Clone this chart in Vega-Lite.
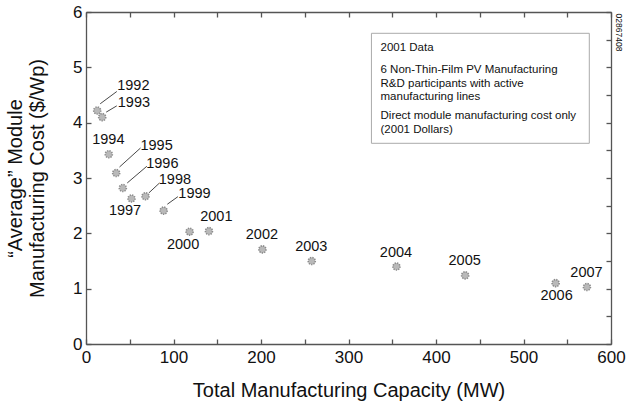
{
  "$schema": "https://vega.github.io/schema/vega-lite/v6.json",
  "autosize": "none",
  "width": 525,
  "height": 332,
  "padding": {"left": 86, "top": 12, "right": 15, "bottom": 58},
  "background": "white",
  "config": {
    "font": "Liberation Sans",
    "view": {"stroke": null},
    "axis": {
      "grid": false,
      "domainColor": "#555",
      "domainWidth": 1.3,
      "tickColor": "#555",
      "tickWidth": 1.3,
      "tickSize": -5,
      "labelFontSize": 17,
      "labelColor": "#111",
      "labelFlush": false,
      "labelOverlap": false,
      "titleFontSize": 20,
      "titleFontWeight": "normal",
      "titleColor": "#111"
    },
    "text": {"font": "Liberation Sans", "color": "#111"}
  },
  "data": {
    "values": [
      {"year": "1992", "capacity": 12.8, "cost": 4.22},
      {"year": "1993", "capacity": 18.5, "cost": 4.10},
      {"year": "1994", "capacity": 26.1, "cost": 3.43},
      {"year": "1995", "capacity": 34.5, "cost": 3.09},
      {"year": "1996", "capacity": 42.1, "cost": 2.82},
      {"year": "1997", "capacity": 52.0, "cost": 2.63},
      {"year": "1998", "capacity": 68.0, "cost": 2.67},
      {"year": "1999", "capacity": 88.7, "cost": 2.41},
      {"year": "2000", "capacity": 118.4, "cost": 2.03},
      {"year": "2001", "capacity": 140.5, "cost": 2.04},
      {"year": "2002", "capacity": 201.6, "cost": 1.71},
      {"year": "2003", "capacity": 258.0, "cost": 1.50},
      {"year": "2004", "capacity": 354.8, "cost": 1.40},
      {"year": "2005", "capacity": 433.3, "cost": 1.24},
      {"year": "2006", "capacity": 536.7, "cost": 1.10},
      {"year": "2007", "capacity": 572.5, "cost": 1.03}
    ]
  },
  "encoding": {
    "x": {"field": "capacity", "type": "quantitative", "scale": {"domain": [0, 600], "nice": false}},
    "y": {"field": "cost", "type": "quantitative", "scale": {"domain": [0, 6], "nice": false}}
  },
  "resolve": {"axis": {"x": "independent", "y": "independent"}},
  "layer": [
    {
      "mark": {"type": "point", "opacity": 0},
      "encoding": {
        "x": {"field": "capacity", "type": "quantitative", "axis": {"orient": "top", "values": [0,50,100,150,200,250,300,350,400,450,500,550,600], "labels": false, "title": null}},
        "y": {"field": "cost", "type": "quantitative", "axis": {"orient": "right", "values": [0,0.5,1,1.5,2,2.5,3,3.5,4,4.5,5,5.5,6], "labels": false, "title": null}}
      }
    },
    {
      "transform": [{"filter": {"field": "year", "equal": "1992"}}],
      "mark": {"type": "rect", "fill": null, "stroke": "#aaaaaa", "strokeWidth": 1},
      "encoding": {
        "x": {"datum": 326.2, "type": "quantitative", "axis": null},
        "x2": {"datum": 575.2},
        "y": {"datum": 5.615, "type": "quantitative", "axis": null},
        "y2": {"datum": 3.627}
      }
    },
    {
      "transform": [{"filter": {"field": "year", "equal": "1992"}}],
      "mark": {"type": "text", "align": "left", "baseline": "middle", "fontSize": 11.5},
      "encoding": {
        "x": {"datum": 336.6, "type": "quantitative", "axis": null},
        "y": {"datum": 5.355, "type": "quantitative", "axis": null},
        "text": {"value": "2001 Data"}
      }
    },
    {
      "transform": [{"filter": {"field": "year", "equal": "1992"}}],
      "mark": {"type": "text", "align": "left", "baseline": "middle", "fontSize": 11.5, "lineHeight": 13.8},
      "encoding": {
        "x": {"datum": 336.6, "type": "quantitative", "axis": null},
        "y": {"datum": 4.957, "type": "quantitative", "axis": null},
        "text": {"value": ["6 Non-Thin-Film PV Manufacturing", "R&D participants with active", "manufacturing lines"]}
      }
    },
    {
      "transform": [{"filter": {"field": "year", "equal": "1992"}}],
      "mark": {"type": "text", "align": "left", "baseline": "middle", "fontSize": 11.5, "lineHeight": 13.8},
      "encoding": {
        "x": {"datum": 336.6, "type": "quantitative", "axis": null},
        "y": {"datum": 4.115, "type": "quantitative", "axis": null},
        "text": {"value": ["Direct module manufacturing cost only", "(2001 Dollars)"]}
      }
    },
    {
      "transform": [{"filter": {"field": "year", "equal": "1992"}}],
      "mark": {"type": "text", "align": "center", "baseline": "middle", "fontSize": 8.5, "angle": 90},
      "encoding": {
        "x": {"datum": 609, "type": "quantitative", "axis": null},
        "y": {"datum": 5.63, "type": "quantitative", "axis": null},
        "text": {"value": "02867408"}
      }
    },
    {
      "transform": [{"filter": {"field": "year", "oneOf": ["1992", "1993", "1995", "1996", "1998", "1999"]}}],
      "mark": {"type": "point", "filled": false, "size": 400, "stroke": "#333", "strokeWidth": 0.9, "opacity": 1},
      "encoding": {
        "x": {"field": "capacity", "type": "quantitative", "axis": null},
        "y": {"field": "cost", "type": "quantitative", "axis": null},
        "shape": {
          "field": "year", "type": "nominal", "legend": null,
          "scale": {
            "domain": ["1992", "1993", "1995", "1996", "1998", "1999"],
            "range": ["M0.3,-0.67L1.96,-1.9", "M0.4,-0.5L1.46,-1.13", "M0.33,-0.6L2.43,-2.5", "M0.44,-0.5L2.4,-2.17", "M0.33,-0.33L1.4,-1.33", "M0.37,-0.64L1.43,-1.4"]
          }
        }
      }
    },
    {
      "mark": {"type": "point", "filled": true, "shape": "circle", "size": 50, "fill": "#b9b9b9", "stroke": "#8c8c8c", "strokeWidth": 1.6, "strokeDash": [1.3, 1.1], "opacity": 1},
      "encoding": {
        "x": {"field": "capacity", "type": "quantitative", "title": "Total Manufacturing Capacity (MW)",
          "axis": {"orient": "bottom", "values": [0,50,100,150,200,250,300,350,400,450,500,550,600], "labelExpr": "datum.value % 100 === 0 ? datum.label : ''", "labelPadding": 10, "titleY": 52, "titleBaseline": "alphabetic"}},
        "y": {"field": "cost", "type": "quantitative", "title": ["“Average” Module", "Manufacturing Cost ($/Wp)"],
          "axis": {"orient": "left", "values": [0,0.5,1,1.5,2,2.5,3,3.5,4,4.5,5,5.5,6], "format": "d", "labelExpr": "datum.value % 1 === 0 ? datum.label : ''", "labelPadding": 9, "titleX": -71, "titleBaseline": "middle", "titleLineHeight": 22}}
      }
    },
    {
      "transform": [{"filter": {"field": "year", "oneOf": ["1994", "2002", "2003", "2004", "2005", "2007"]}}],
      "mark": {"type": "text", "align": "center", "baseline": "middle", "fontSize": 14.5, "dx": -0.5, "dy": -14},
      "encoding": {"x": {"field": "capacity", "type": "quantitative", "axis": null}, "y": {"field": "cost", "type": "quantitative", "axis": null}, "text": {"field": "year"}}
    },
    {
      "transform": [{"filter": {"field": "year", "equal": "2001"}}],
      "mark": {"type": "text", "align": "center", "baseline": "middle", "fontSize": 14.5, "dx": 7.4, "dy": -14.3},
      "encoding": {"x": {"field": "capacity", "type": "quantitative", "axis": null}, "y": {"field": "cost", "type": "quantitative", "axis": null}, "text": {"field": "year"}}
    },
    {
      "transform": [{"filter": {"field": "year", "oneOf": ["1997", "2000"]}}],
      "mark": {"type": "text", "align": "center", "baseline": "middle", "fontSize": 14.5, "dx": -6.5, "dy": 13},
      "encoding": {"x": {"field": "capacity", "type": "quantitative", "axis": null}, "y": {"field": "cost", "type": "quantitative", "axis": null}, "text": {"field": "year"}}
    },
    {
      "transform": [{"filter": {"field": "year", "equal": "2006"}}],
      "mark": {"type": "text", "align": "center", "baseline": "middle", "fontSize": 14.5, "dx": 1, "dy": 12.7},
      "encoding": {"x": {"field": "capacity", "type": "quantitative", "axis": null}, "y": {"field": "cost", "type": "quantitative", "axis": null}, "text": {"field": "year"}}
    },
    {
      "transform": [{"filter": {"field": "year", "equal": "1992"}}],
      "mark": {"type": "text", "align": "left", "baseline": "middle", "fontSize": 14.5, "dx": 20, "dy": -24.7},
      "encoding": {"x": {"field": "capacity", "type": "quantitative", "axis": null}, "y": {"field": "cost", "type": "quantitative", "axis": null}, "text": {"field": "year"}}
    },
    {
      "transform": [{"filter": {"field": "year", "equal": "1993"}}],
      "mark": {"type": "text", "align": "left", "baseline": "middle", "fontSize": 14.5, "dx": 15.6, "dy": -14.6},
      "encoding": {"x": {"field": "capacity", "type": "quantitative", "axis": null}, "y": {"field": "cost", "type": "quantitative", "axis": null}, "text": {"field": "year"}}
    },
    {
      "transform": [{"filter": {"field": "year", "equal": "1995"}}],
      "mark": {"type": "text", "align": "left", "baseline": "middle", "fontSize": 14.5, "dx": 24.3, "dy": -27.3},
      "encoding": {"x": {"field": "capacity", "type": "quantitative", "axis": null}, "y": {"field": "cost", "type": "quantitative", "axis": null}, "text": {"field": "year"}}
    },
    {
      "transform": [{"filter": {"field": "year", "equal": "1996"}}],
      "mark": {"type": "text", "align": "left", "baseline": "middle", "fontSize": 14.5, "dx": 23.4, "dy": -24.4},
      "encoding": {"x": {"field": "capacity", "type": "quantitative", "axis": null}, "y": {"field": "cost", "type": "quantitative", "axis": null}, "text": {"field": "year"}}
    },
    {
      "transform": [{"filter": {"field": "year", "equal": "1998"}}],
      "mark": {"type": "text", "align": "left", "baseline": "middle", "fontSize": 14.5, "dx": 13.3, "dy": -16.7},
      "encoding": {"x": {"field": "capacity", "type": "quantitative", "axis": null}, "y": {"field": "cost", "type": "quantitative", "axis": null}, "text": {"field": "year"}}
    },
    {
      "transform": [{"filter": {"field": "year", "equal": "1999"}}],
      "mark": {"type": "text", "align": "left", "baseline": "middle", "fontSize": 14.5, "dx": 14.7, "dy": -16.4},
      "encoding": {"x": {"field": "capacity", "type": "quantitative", "axis": null}, "y": {"field": "cost", "type": "quantitative", "axis": null}, "text": {"field": "year"}}
    }
  ]
}
